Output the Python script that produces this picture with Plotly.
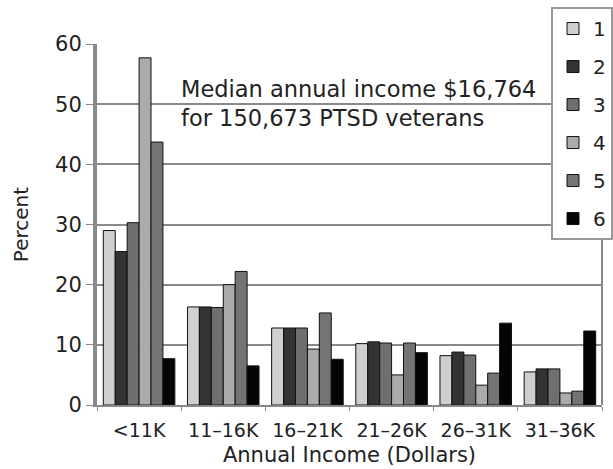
import plotly.graph_objects as go

categories = ["<11K", "11–16K", "16–21K", "21–26K", "26–31K", "31–36K"]
series_names = ["1", "2", "3", "4", "5", "6"]
s1 = [29.0, 16.3, 12.8, 10.2, 8.2, 5.5]
s2 = [25.5, 16.3, 12.8, 10.5, 8.8, 6.0]
s3 = [30.3, 16.2, 12.8, 10.3, 8.3, 6.0]
s4 = [57.7, 20.0, 9.3, 5.0, 3.3, 2.0]
s5 = [43.7, 22.2, 15.3, 10.3, 5.3, 2.3]
s6 = [7.7, 6.5, 7.6, 8.7, 13.6, 12.3]
series_values = [s1, s2, s3, s4, s5, s6]
colors = ["#cfcfcf", "#333333", "#6f6f6f", "#ababab", "#747474", "#050505"]

FONT = "DejaVu Sans"
TXT = "#222222"

fig = go.Figure()
for name, vals, col in zip(series_names, series_values, colors):
    fig.add_trace(go.Bar(
        x=categories, y=vals, name=name, legendgroup=name,
        marker=dict(color=col, line=dict(color="#111111", width=1)),
    ))

fig.update_layout(
    width=613, height=469,
    margin=dict(l=97, r=11, t=44, b=64, autoexpand=False),
    paper_bgcolor="white", plot_bgcolor="white",
    barmode="group", bargap=0.15, bargroupgap=0.0,
    font=dict(family=FONT, size=19, color=TXT),
    showlegend=True,
    legend=dict(
        xref="container", yref="container",
        x=1.016, xanchor="right", y=0.985, yanchor="top",
        bgcolor="white", bordercolor="#999999", borderwidth=2,
        font=dict(size=20), tracegroupgap=9,
        itemwidth=30, maxheight=400,
    ),
    xaxis=dict(
        automargin=False,
        showline=True, linecolor="#888888", linewidth=2,
        ticks="outside", ticklen=4, tickcolor="#888888",
        tickson="boundaries", ticklabelstandoff=7,
        title=dict(text="Annual Income (Dollars)", font=dict(size=21), standoff=8),
        tickfont=dict(size=19),
    ),
    yaxis=dict(
        automargin=False,
        range=[0, 60], dtick=10,
        showgrid=True, gridcolor="#8a8a8a", gridwidth=2,
        showline=True, linecolor="#8a8a8a", linewidth=4,
        ticks="outside", ticklen=7, tickcolor="#888888",
        mirror=False, zeroline=False,
        title=dict(text="Percent", font=dict(size=20), standoff=22),
        tickfont=dict(size=21),
    ),
    annotations=[dict(
        text="Median annual income $16,764<br>for 150,673 PTSD veterans",
        x=0.163, xref="paper", y=0.918, yref="paper",
        xanchor="left", yanchor="top", align="left", showarrow=False,
        font=dict(size=22.5, color=TXT),
    )],
    shapes=[dict(type="line", xref="paper", yref="paper", x0=1, x1=1, y0=0, y1=1,
                 line=dict(color="#888888", width=2))],
)

fig.write_html("out.html")
